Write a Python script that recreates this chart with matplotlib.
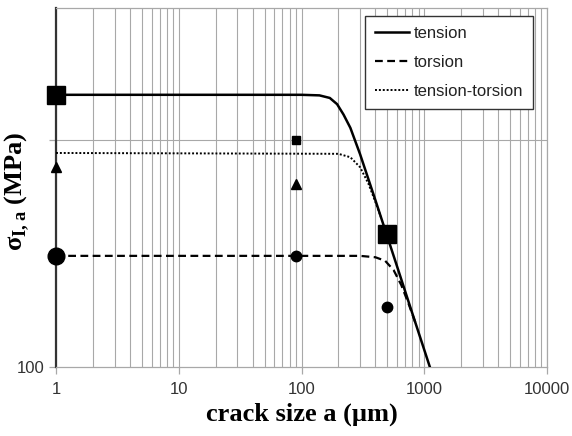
import numpy as np
import matplotlib
matplotlib.use("Agg")
import matplotlib.pyplot as plt
from matplotlib.ticker import FixedLocator, NullLocator

plt.rcParams['mathtext.fontset'] = 'custom'
plt.rcParams['mathtext.rm'] = 'Liberation Serif'
plt.rcParams['mathtext.bf'] = 'Liberation Serif:bold'

# curves (crack size in um, stress in MPa)
tension_a = [1, 100, 140, 170, 195, 220, 250, 300, 400, 600, 800, 1111, 1200]
tension_s = [230, 230, 229.6, 227.8, 223.5, 216.5, 207.9, 191.8, 166.6, 136.1, 117.8, 100.0, 96.2]

torsion_a = [1, 300, 400, 480, 563, 650, 750, 850]
torsion_s = [140.5, 140.5, 139.9, 138.4, 134.5, 128.5, 121.0, 114.3]

tt_a = [1, 200, 250, 300, 350, 400, 450]
tt_s = [192.5, 192.0, 190.0, 184.3, 175.4, 165.7, 157.1]

# experimental points
sq_big_a = [1, 493]
sq_big_s = [230, 150]
sq_small_a = [90]
sq_small_s = [200]
tri_a = [1, 90]
tri_s = [184.6, 175]
circ_big_a = [1]
circ_big_s = [140.5]
circ_small_a = [90, 493]
circ_small_s = [140.5, 120]

fig = plt.figure(figsize=(5.72, 4.36), dpi=100)
ax = fig.add_axes([0.0979, 0.1583, 0.8584, 0.8234])
ax.set_xscale('log')
ax.set_yscale('log')
ax.set_xlim(1, 10000)
ax.set_ylim(100, 300)

# grid
gcol = '#a8a8a8'
for dec in [1, 10, 100, 1000]:
    for m in range(1, 10):
        ax.axvline(dec * m, color=gcol, lw=0.8, zorder=0)
ax.axvline(10000, color=gcol, lw=0.8, zorder=0)
ax.axhline(200, color=gcol, lw=0.8, zorder=0)

ax.plot(tension_a, tension_s, color='black', lw=1.8, label='tension', zorder=3)
ax.plot(torsion_a, torsion_s, color='black', lw=1.6, ls=(0, (3.5, 2)), label='torsion', zorder=3)
ax.plot(tt_a, tt_s, color='black', lw=1.4, ls=(0, (1, 1)), label='tension-torsion', zorder=3)

ax.plot(sq_big_a, sq_big_s, 's', color='black', ms=12.5, ls='none', clip_on=False, zorder=4)
ax.plot(sq_small_a, sq_small_s, 's', color='black', ms=6, ls='none', clip_on=False, zorder=4)
ax.plot(tri_a, tri_s, '^', color='black', ms=7, ls='none', clip_on=False, zorder=4)
ax.plot(circ_big_a, circ_big_s, 'o', color='black', ms=12, ls='none', clip_on=False, zorder=4)
ax.plot(circ_small_a, circ_small_s, 'o', color='black', ms=7.5, ls='none', clip_on=False, zorder=4)

# axes styling
for s in ['top', 'right', 'bottom']:
    ax.spines[s].set_color(gcol)
    ax.spines[s].set_linewidth(0.9)
ax.spines['left'].set_color('#333333')
ax.spines['left'].set_linewidth(1.6)

ax.xaxis.set_major_locator(FixedLocator([1, 10, 100, 1000, 10000]))
ax.xaxis.set_minor_locator(NullLocator())
ax.set_xticklabels(['1', '10', '100', '1000', '10000'])
ax.yaxis.set_major_locator(FixedLocator([100, 200]))
ax.yaxis.set_minor_locator(NullLocator())
ax.set_yticklabels(['100', ''])
ax.tick_params(axis='both', direction='out', length=5, width=0.9, color=gcol,
               labelsize=12, colors='#333333')
ax.tick_params(axis='x', pad=6)
for lab in ax.get_xticklabels() + ax.get_yticklabels():
    lab.set_fontfamily('Liberation Sans')

ax.set_xlabel('crack size a (µm)', fontsize=19, fontweight='bold',
              fontfamily='Liberation Serif', labelpad=4)
ax.set_ylabel(r'σ$_{\mathbf{I,a}}$ (MPa)', fontsize=19, fontweight='bold',
              fontfamily='Liberation Serif')
ax.yaxis.set_label_coords(-0.049, 0.49)

leg = ax.legend(loc='upper right', bbox_to_anchor=(0.972, 0.978), borderaxespad=0,
                fancybox=False, edgecolor='#333333', framealpha=1, handlelength=2.0,
                handletextpad=0.3, borderpad=0.6, labelspacing=0.85,
                prop={'family': 'Liberation Sans', 'size': 12})
leg.get_frame().set_linewidth(1.0)
for t in leg.get_texts():
    t.set_color('#222222')

fig.savefig('out.png', dpi=100)
